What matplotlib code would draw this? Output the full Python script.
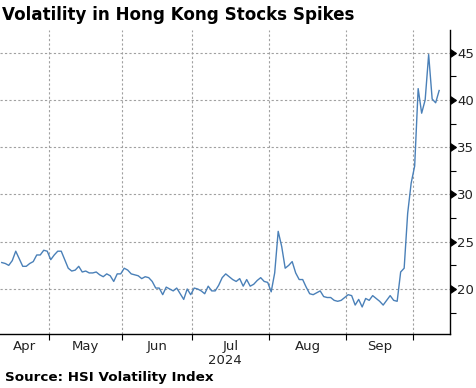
import matplotlib.pyplot as plt
from matplotlib import markers

# HSI Volatility Index, one value per trading day (mid Apr .. early Oct 2024)
vhsi = [22.8, 22.7, 22.5, 23.0, 24.0, 23.2, 22.4, 22.4, 22.7, 22.9,
        23.6, 23.6, 24.1, 24.0, 23.1, 23.6, 24.0, 24.0, 23.1, 22.2,
        21.9, 22.0, 22.4, 21.8, 21.9, 21.7, 21.7, 21.8, 21.5, 21.3,
        21.6, 21.4, 20.8, 21.6, 21.6, 22.2, 22.0, 21.6, 21.5, 21.4,
        21.1, 21.3, 21.2, 20.8, 20.1, 20.1, 19.4, 20.2, 20.0, 19.8,
        20.1, 19.5, 18.9, 20.0, 19.4, 20.1, 20.0, 19.8, 19.5, 20.3,
        19.8, 19.8, 20.4, 21.2, 21.6, 21.3, 21.0, 20.8, 21.1, 20.3,
        21.0, 20.3, 20.5, 20.9, 21.2, 20.8, 20.7, 19.7, 21.7, 26.1,
        24.5, 22.2, 22.5, 22.9, 21.7, 21.0, 21.0, 20.2, 19.5, 19.4,
        19.6, 19.8, 19.2, 19.1, 19.1, 18.8, 18.7, 18.8, 19.1, 19.4,
        19.3, 18.3, 18.9, 18.1, 19.0, 18.8, 19.3, 19.0, 18.7, 18.3,
        18.8, 19.3, 18.8, 18.7, 21.8, 22.2, 28.0, 31.2, 33.0, 41.2,
        38.6, 40.0, 44.8, 40.1, 39.7, 41.0]

# first trading day of each month (index into vhsi)
month_starts = [14, 35, 55, 77, 99, 118]
month_labels = ['Apr', 'May', 'Jun', 'Jul', 'Aug', 'Sep']
y_ticks = [20, 25, 30, 35, 40, 45]

fig = plt.figure(figsize=(4.76, 3.88), dpi=100)
ax = fig.add_axes([0, 54 / 388, 450 / 476, 304 / 388])

ax.plot(range(len(vhsi)), vhsi, color='#4a80b8', lw=1.0)

x_left, x_right = -0.5, 128.1
ax.set_xlim(x_left, x_right)
ax.set_ylim(15.24, 47.4)

bounds = [m - 0.5 for m in month_starts]
ax.set_xticks(bounds)
ax.set_xticklabels([])
edges = [x_left] + bounds
centers = [(a + b) / 2 for a, b in zip(edges[:-1], edges[1:])]
ax.set_xticks(centers, minor=True)
ax.set_xticklabels(month_labels, minor=True, fontsize=9.5, color='#222222')
ax.tick_params(axis='x', which='major', direction='out', length=4, width=0.8)
ax.tick_params(axis='x', which='minor', length=0, pad=4)
ax.text(63.8, -0.086, '2024', transform=ax.get_xaxis_transform(),
        ha='center', va='center', fontsize=9.5, color='#222222')

ax.yaxis.tick_right()
ax.set_yticks(y_ticks)
ax.set_yticks([17.5, 22.5, 27.5, 32.5, 37.5, 42.5], minor=True)
ax.tick_params(axis='y', which='major', length=0, pad=5, labelsize=9.5,
               labelcolor='#222222')
ax.tick_params(axis='y', which='minor', direction='out', length=4, width=0.8)
for t in ax.yaxis.get_major_ticks():
    t.tick2line.set_marker(markers.CARETRIGHTBASE)
    t.tick2line.set_markersize(6)
    t.tick2line.set_color('black')

ax.grid(True, which='major', color='#a0a0a0', linestyle=(0, (2, 2)), lw=0.8)

for s in ['left', 'top']:
    ax.spines[s].set_visible(False)
ax.spines['right'].set_linewidth(1.0)
ax.spines['bottom'].set_linewidth(1.0)

fig.text(2 / 476, 1 - 15 / 388, 'Volatility in Hong Kong Stocks Spikes',
         fontsize=12.1, fontweight='bold', va='center', ha='left')
fig.text(5 / 476, 1 - 377 / 388, 'Source: HSI Volatility Index',
         fontsize=9.7, fontweight='bold', va='center', ha='left')

fig.savefig('out.png', dpi=100)
